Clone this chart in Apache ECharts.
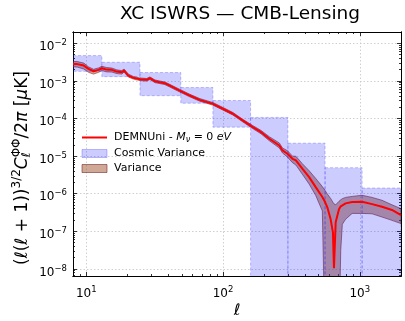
<!DOCTYPE html>
<html>
<head>
<meta charset="utf-8">
<script src="https://cdn.jsdelivr.net/npm/echarts@6/dist/echarts.min.js"></script>
<style>
  html, body { margin: 0; padding: 0; background: #fff; }
  #chart { width: 405px; height: 321px; }
</style>
</head>
<body>
<div id="chart"></div>
<script>
// multipoles and spectrum
const ell = [8, 8.6, 9.6, 10.4, 11.3, 12.3, 13.0, 14.1, 15.4, 16.7, 18.2, 18.9, 20.3, 22.1, 24.7, 27.6, 29.2, 31.8, 34.5, 37.5,
  40.8, 48.3, 57.1, 67.5, 84.3, 99.7, 118, 139, 165, 190, 218, 258, 272, 296, 322, 341, 380, 426, 476, 532,
  557, 578, 612, 636, 647, 666, 704, 725, 745, 787, 879, 1039, 1229, 1453, 1718, 2000];
const cl = [2.84e-3, 2.80e-3, 2.56e-3, 2.09e-3, 1.81e-3, 1.97e-3, 2.17e-3, 2.00e-3, 1.97e-3, 1.77e-3, 1.70e-3, 1.88e-3, 1.39e-3, 1.21e-3, 1.11e-3, 1.07e-3, 1.18e-3, 9.8e-4, 9.2e-4, 8.7e-4,
  7.5e-4, 5.5e-4, 4.09e-4, 3.14e-4, 2.46e-4, 1.82e-4, 1.34e-4, 8.9e-5, 5.9e-5, 4.34e-5, 2.90e-5, 1.92e-5, 1.42e-5, 1.16e-5, 8.5e-6, 7.7e-6, 4.63e-6, 2.77e-6, 1.50e-6, 8.2e-7,
  6.0e-7, 4.43e-7, 2.09e-7, 9.4e-8, 1.05e-8, 1.74e-7, 3.85e-7, 4.62e-7, 5.07e-7, 5.55e-7, 6.0e-7, 6.1e-7, 5.3e-7, 4.5e-7, 3.7e-7, 2.7e-7];
const clHi = [3.31e-3, 3.27e-3, 2.98e-3, 2.36e-3, 2.04e-3, 2.22e-3, 2.45e-3, 2.27e-3, 2.20e-3, 1.97e-3, 1.88e-3, 2.07e-3, 1.52e-3, 1.31e-3, 1.20e-3, 1.16e-3, 1.28e-3, 1.06e-3, 9.96e-4, 9.4e-4,
  8.1e-4, 5.96e-4, 4.43e-4, 3.40e-4, 2.66e-4, 1.97e-4, 1.45e-4, 9.6e-5, 6.5e-5, 4.8e-5, 3.28e-5, 2.24e-5, 1.65e-5, 1.39e-5, 1.0e-5, 9.9e-6, 6.3e-6, 4.1e-6, 2.55e-6, 1.55e-6,
  1.23e-6, 9.9e-7, 7.5e-7, 5.9e-7, 5.4e-7, 5.07e-7, 6.3e-7, 6.9e-7, 7.4e-7, 8.0e-7, 8.5e-7, 9.1e-7, 8.0e-7, 6.7e-7, 5.07e-7, 4.02e-7];
const clLo = [2.36e-3, 2.33e-3, 2.07e-3, 1.69e-3, 1.52e-3, 1.69e-3, 1.88e-3, 1.74e-3, 1.72e-3, 1.57e-3, 1.52e-3, 1.72e-3, 1.27e-3, 1.12e-3, 1.02e-3, 9.9e-4, 1.09e-3, 9.0e-4, 8.5e-4, 8.0e-4,
  6.9e-4, 5.08e-4, 3.78e-4, 2.90e-4, 2.27e-4, 1.68e-4, 1.24e-4, 8.2e-5, 5.4e-5, 3.9e-5, 2.57e-5, 1.65e-5, 1.22e-5, 9.4e-6, 6.7e-6, 5.8e-6, 3.3e-6, 1.81e-6, 9.0e-7, 3.5e-7,
  1e-10, 1e-10, 1e-10, 1e-10, 1e-10, 1e-10, 1e-10, 3.1e-8, 1.54e-7, 2.1e-7, 3.0e-7, 3.0e-7, 2.93e-7, 2.40e-7, 1.96e-7, 1.61e-7];

// cosmic variance bins
const binLo = [8, 13, 24.7, 49.1, 84.3, 159, 298, 557, 1039];
const binHi = [13, 24.7, 49.1, 84.3, 159, 298, 557, 1039, 2000];
const cvTop = [4.72e-3, 3.13e-3, 1.67e-3, 6.67e-4, 3.01e-4, 1.07e-4, 2.21e-5, 4.92e-6, 1.42e-6];
const cvBottom = [1.80e-3, 1.30e-3, 4.05e-4, 2.55e-4, 5.9e-5, 1e-10, 1e-10, 1e-10, 1e-10];

// axis ticks
const xMajor = [10, 100, 1000];
const xMinor = [8, 9, 20, 30, 40, 50, 60, 70, 80, 90, 200, 300, 400, 500, 600, 700, 800, 900];
const yMajor = [1e-8, 1e-7, 1e-6, 1e-5, 1e-4, 1e-3, 1e-2];
const yMinor = [7e-9, 8e-9, 9e-9,
  2e-8, 3e-8, 4e-8, 5e-8, 6e-8, 7e-8, 8e-8, 9e-8,
  2e-7, 3e-7, 4e-7, 5e-7, 6e-7, 7e-7, 8e-7, 9e-7,
  2e-6, 3e-6, 4e-6, 5e-6, 6e-6, 7e-6, 8e-6, 9e-6,
  2e-5, 3e-5, 4e-5, 5e-5, 6e-5, 7e-5, 8e-5, 9e-5,
  2e-4, 3e-4, 4e-4, 5e-4, 6e-4, 7e-4, 8e-4, 9e-4,
  2e-3, 3e-3, 4e-3, 5e-3, 6e-3, 7e-3, 8e-3, 9e-3];

const FONT = 'DejaVu Sans';
const LINE_NAME = 'DEMNUni - M\u03bd = 0 eV';
const CV_NAME = 'Cosmic Variance';
const VAR_NAME = 'Variance';

const chart = echarts.init(document.getElementById('chart'), null, { renderer: 'canvas' });

function powLabel(v) {
  const p = Math.round(Math.log10(v));
  return '{b|10}{sup|' + (p < 0 ? '\u2212' + (-p) : p) + '}';
}

const tickRich = {
  b: { fontFamily: FONT, fontSize: 12, color: '#000', padding: [7, 0, 0, 0] },
  sup: { fontFamily: FONT, fontSize: 8.5, color: '#000', padding: [0, 0, 1, 0] }
};

const gridLine = { show: true, lineStyle: { color: '#c4c4c4', width: 0.8, type: [1.5, 2] } };

function makeAxis(kind, position, ticks, len, main) {
  const isX = kind === 'x';
  const axis = {
    type: 'log',
    logBase: 10,
    min: isX ? 8 : 6.5e-9,
    max: isX ? 2000 : 2e-2,
    position,
    axisLine: { show: true, onZero: false, lineStyle: { color: '#000', width: 1 } },
    axisTick: { show: true, inside: true, length: len, customValues: ticks, lineStyle: { color: '#000', width: 0.8 } },
    axisLabel: { show: false },
    splitLine: { show: false },
    minorTick: { show: false }
  };
  if (main) {
    axis.axisLabel = {
      show: true,
      customValues: ticks,
      margin: isX ? 5 : 6,
      formatter: powLabel,
      rich: tickRich
    };
    axis.splitLine = gridLine;
  }
  return axis;
}

const xAxes = [
  makeAxis('x', 'bottom', xMajor, 4, true),
  makeAxis('x', 'bottom', xMinor, 2, false),
  makeAxis('x', 'top', xMajor, 4, false),
  makeAxis('x', 'top', xMinor, 2, false)
];
xAxes[0].name = '\u2113';
xAxes[0].nameLocation = 'middle';
xAxes[0].nameGap = 27;
xAxes[0].nameMoveOverlap = false;
xAxes[0].nameTextStyle = { fontFamily: FONT, fontSize: 16, fontStyle: 'italic', color: '#000' };

const yAxes = [
  makeAxis('y', 'left', yMajor, 4, true),
  makeAxis('y', 'left', yMinor, 2, false),
  makeAxis('y', 'right', yMajor, 4, false),
  makeAxis('y', 'right', yMinor, 2, false)
];
yAxes[0].name = '(\u2113(\u2113 + 1)){sup|3/2}{it|C}{sub|\u2113}{supl|\u03a6\u03a6}/2{it|\u03c0} [{it|\u03bc}K]';
yAxes[0].nameLocation = 'middle';
yAxes[0].nameRotate = 90;
yAxes[0].nameGap = 39;
yAxes[0].nameMoveOverlap = false;
yAxes[0].nameTextStyle = {
  fontFamily: FONT,
  fontSize: 17,
  color: '#000',
  padding: [0, 28, 0, 0],
  rich: {
    sup: { fontFamily: FONT, fontSize: 12, color: '#000', padding: [0, 0, 11, 0] },
    supl: { fontFamily: FONT, fontSize: 12, color: '#000', padding: [0, 0, 11, -5] },
    sub: { fontFamily: FONT, fontSize: 12, fontStyle: 'italic', color: '#000', padding: [8, 0, 0, 0] },
    it: { fontFamily: FONT, fontSize: 17, fontStyle: 'italic', color: '#000' }
  }
};

function clipRect(params) {
  const c = params.coordSys;
  return { type: 'rect', shape: { x: c.x, y: c.y, width: c.width, height: c.height } };
}

function renderBand(params, api) {
  if (params.dataIndex !== 0) {
    return null;
  }
  const pts = [];
  for (let i = 0; i < ell.length; i++) {
    pts.push(api.coord([ell[i], clHi[i]]));
  }
  for (let i = ell.length - 1; i >= 0; i--) {
    pts.push(api.coord([ell[i], clLo[i]]));
  }
  return {
    type: 'polygon',
    shape: { points: pts },
    style: { fill: 'rgba(160,82,45,0.5)', stroke: 'rgba(110,30,30,0.55)', lineWidth: 1 },
    clipPath: clipRect(params)
  };
}

function renderBox(params, api) {
  const p0 = api.coord([api.value(0), api.value(3)]);
  const p1 = api.coord([api.value(1), api.value(2)]);
  return {
    type: 'rect',
    shape: { x: p0[0], y: p0[1], width: p1[0] - p0[0], height: p1[1] - p0[1] },
    style: { fill: 'rgba(0,0,255,0.2)', stroke: 'rgba(40,40,255,0.28)', lineWidth: 1, lineDash: [3, 2] },
    clipPath: clipRect(params)
  };
}

const option = {
  animation: false,
  backgroundColor: '#fff',
  textStyle: { fontFamily: FONT },
  title: {
    text: 'XC ISWRS \u2014 CMB-Lensing',
    left: 235,
    textAlign: 'center',
    top: 0,
    textStyle: { fontFamily: FONT, fontSize: 18.5, fontWeight: 'normal', color: '#000' }
  },
  grid: { left: 73, right: 4, top: 32, bottom: 45, containLabel: false, outerBoundsMode: 'none' },
  legend: {
    orient: 'vertical',
    left: 81,
    top: 132,
    padding: 0,
    itemWidth: 25,
    itemHeight: 8,
    itemGap: 4,
    selectedMode: false,
    data: [
      { name: LINE_NAME, itemStyle: { opacity: 0 } },
      { name: CV_NAME, icon: 'rect', itemStyle: { color: 'rgba(0,0,255,0.2)', borderColor: 'rgba(40,40,255,0.28)', borderWidth: 1 } },
      { name: VAR_NAME, icon: 'rect', itemStyle: { color: 'rgba(160,82,45,0.5)', borderColor: 'rgba(110,30,30,0.55)', borderWidth: 1 } }
    ],
    formatter: (name) => (name === LINE_NAME ? 'DEMNUni - {it|M}{sub|\u03bd} = 0 {it|eV}' : name),
    textStyle: {
      fontFamily: FONT,
      fontSize: 11,
      color: '#000',
      padding: [0, 0, 0, 2],
      rich: {
        it: { fontFamily: FONT, fontSize: 11, fontStyle: 'italic', color: '#000' },
        sub: { fontFamily: FONT, fontSize: 8, fontStyle: 'italic', color: '#000', padding: [5, 0, 0, 0] }
      }
    }
  },
  xAxis: xAxes,
  yAxis: yAxes,
  series: [
    {
      name: VAR_NAME,
      type: 'custom',
      xAxisIndex: 0,
      yAxisIndex: 0,
      clip: true,
      itemStyle: { color: 'rgba(160,82,45,0.5)' },
      renderItem: renderBand,
      encode: { x: 0, y: [1, 2] },
      data: ell.map((l, i) => [l, clLo[i], clHi[i]]),
      z: 1
    },
    {
      name: CV_NAME,
      type: 'custom',
      xAxisIndex: 0,
      yAxisIndex: 0,
      clip: true,
      itemStyle: { color: 'rgba(0,0,255,0.2)' },
      renderItem: renderBox,
      encode: { x: [0, 1], y: [2, 3] },
      data: binLo.map((lo, i) => [lo, binHi[i], cvBottom[i], cvTop[i]]),
      z: 2
    },
    {
      name: LINE_NAME,
      type: 'line',
      xAxisIndex: 0,
      yAxisIndex: 0,
      symbol: 'none',
      showSymbol: false,
      clip: true,
      lineStyle: { color: '#ff0000', width: 2 },
      itemStyle: { color: '#ff0000' },
      data: ell.map((l, i) => [l, cl[i]]),
      z: 3
    }
  ]
};

chart.setOption(option);
</script>
</body>
</html>
